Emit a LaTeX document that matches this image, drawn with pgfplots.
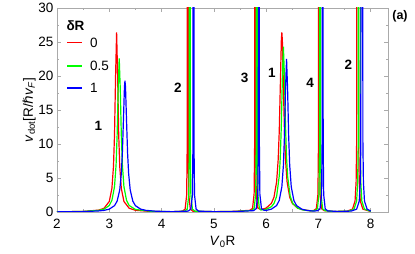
\documentclass[border=0pt]{standalone}
\usepackage{fontspec}
\setmainfont{Liberation Sans}
\newfontfamily\djv{DejaVu Sans}
\usepackage{pgfplots}
\pgfplotsset{compat=1.18}
\definecolor{fr}{RGB}{170,170,170}
\definecolor{cR}{RGB}{255,0,0}
\definecolor{cG}{RGB}{0,255,0}
\definecolor{cB}{RGB}{0,0,255}
\begin{document}
\begin{tikzpicture}
\begin{axis}[
  at={(0pt,0pt)}, anchor=south west,
  scale only axis, width=331pt, height=204pt,
  xmin=2, xmax=8.33, ymin=0, ymax=30,
  xtick={2,3,4,5,6,7,8}, ytick={0,5,10,15,20,25,30},
  minor x tick num=1, minor y tick num=1,
  tick align=inside,
  major tick length=4pt, minor tick length=2.5pt,
  axis line style={fr, line width=0.8pt},
  tick style={fr, line width=0.6pt},
  /pgf/number format/assume math mode=true,
  ticklabel style={font=\fontsize{13.5}{15}\selectfont, black},
  xticklabel style={yshift=-3.5pt},
  xlabel={\textit{V}\textsubscript{0}R},
  ylabel={\textit{v}\textsubscript{dot}[R/{\djv\itshape ℏ}\textit{v}\textsubscript{\textit{F}}]},
  label style={font=\fontsize{13.5}{15}\selectfont},
  xlabel style={yshift=-0.5pt},
  ylabel style={yshift=-4pt},
  clip=true,
]
\addplot[cR, line width=1.2pt] coordinates {
(2.0,0.03) (2.5,0.08) (2.8,0.28) (2.9,0.55) (3.0,1.55) (3.05,3.47) (3.08,6.7) (3.10,11.4) (3.12,19.9) (3.14,26.4) (3.16,19.9) (3.18,11.4) (3.20,6.7) (3.23,3.47) (3.28,1.55) (3.38,0.55) (3.5,0.25) (3.8,0.08) (4.2,0.04)
(4.40,0.12) (4.45,0.42) (4.48,2.5) (4.49,10) (4.50,200) (4.51,10) (4.52,2.5) (4.55,0.42) (4.60,0.12) (5.0,0.05) (5.4,0.1)
(5.69,0.25) (5.74,0.55) (5.77,2.7) (5.78,10.2) (5.79,200) (5.80,10.2) (5.81,2.7) (5.84,0.6) (5.9,0.35)
(6.0,0.58) (6.1,1.27) (6.15,2.18) (6.2,4.45) (6.23,7.72) (6.25,11.8) (6.27,18.3) (6.29,25.2) (6.30,26.4) (6.31,25.2) (6.33,18.3) (6.35,11.8) (6.37,7.72) (6.40,4.45) (6.45,2.18) (6.50,1.27) (6.6,0.58) (6.7,0.33) (6.85,0.18)
(6.91,0.22) (6.96,0.5) (6.99,2.6) (7.00,10.1) (7.01,200) (7.02,10.1) (7.03,2.6) (7.06,0.48) (7.11,0.2) (7.3,0.08)
(7.55,0.13) (7.65,0.42) (7.70,1.6) (7.72,4.4) (7.73,10) (7.75,200) (7.77,10) (7.78,4.4) (7.80,1.6) (7.85,0.42) (8.0,0.07)
};
\addplot[cG, line width=1.2pt] coordinates {
(2.0,0.03) (2.5,0.08) (2.8,0.24) (2.9,0.42) (3.0,0.96) (3.05,1.71) (3.10,3.73) (3.13,6.95) (3.15,11.3) (3.17,18.1) (3.19,22.6) (3.21,18.1) (3.23,11.3) (3.25,6.95) (3.28,3.73) (3.33,1.71) (3.38,0.96) (3.5,0.37) (3.8,0.1) (4.2,0.04)
(4.44,0.12) (4.49,0.42) (4.52,2.5) (4.53,10) (4.54,200) (4.55,10) (4.56,2.5) (4.59,0.42) (4.64,0.12) (5.0,0.05) (5.4,0.08)
(5.72,0.22) (5.77,0.52) (5.80,2.65) (5.81,10.2) (5.82,200) (5.83,10.2) (5.84,2.65) (5.87,0.55) (5.9,0.3)
(6.0,0.39) (6.1,0.78) (6.15,1.25) (6.2,2.3) (6.25,5.25) (6.27,8.0) (6.29,12.7) (6.31,19.8) (6.33,24.3) (6.35,19.8) (6.37,12.7) (6.39,8.0) (6.41,5.25) (6.46,2.3) (6.51,1.25) (6.6,0.57) (6.7,0.31) (6.85,0.16)
(6.93,0.2) (6.98,0.48) (7.01,2.6) (7.02,10.1) (7.03,200) (7.04,10.1) (7.05,2.6) (7.08,0.46) (7.13,0.18) (7.3,0.08)
(7.58,0.13) (7.68,0.42) (7.73,1.6) (7.75,4.4) (7.76,10) (7.78,200) (7.80,10) (7.81,4.4) (7.83,1.6) (7.88,0.42) (8.0,0.1)
};
\addplot[cB, line width=1.2pt] coordinates {
(2.0,0.02) (2.5,0.06) (2.8,0.16) (2.9,0.24) (3.0,0.42) (3.1,0.93) (3.15,1.6) (3.2,3.25) (3.23,5.64) (3.25,8.64) (3.27,13.4) (3.29,18.4) (3.30,19.3) (3.31,18.4) (3.33,13.4) (3.35,8.64) (3.37,5.64) (3.40,3.25) (3.45,1.6) (3.50,0.93) (3.6,0.42) (3.7,0.24) (3.9,0.11) (4.2,0.05)
(4.51,0.13) (4.56,0.43) (4.59,2.5) (4.60,10) (4.61,200) (4.62,10) (4.63,2.5) (4.66,0.42) (4.71,0.12) (5.0,0.05) (5.4,0.06)
(5.76,0.2) (5.81,0.5) (5.84,2.6) (5.85,10.1) (5.86,200) (5.87,10.1) (5.88,2.6) (5.91,0.5) (5.96,0.25)
(6.0,0.23) (6.1,0.42) (6.2,0.95) (6.25,1.7) (6.30,3.7) (6.33,6.9) (6.35,11.25) (6.37,18) (6.39,22.5) (6.41,18) (6.43,11.25) (6.45,6.9) (6.48,3.7) (6.53,1.7) (6.58,0.95) (6.68,0.42) (6.78,0.23) (6.9,0.14)
(6.98,0.18) (7.03,0.45) (7.06,2.55) (7.07,10.1) (7.08,200) (7.09,10.1) (7.10,2.55) (7.13,0.44) (7.18,0.16) (7.4,0.07)
(7.63,0.14) (7.73,0.42) (7.78,1.6) (7.80,4.4) (7.81,10) (7.83,200) (7.85,10) (7.86,4.4) (7.88,1.6) (7.93,0.42) (8.0,0.14)
};
\node[font=\fontsize{13.5}{15}\selectfont\bfseries] at (axis cs:2.79,12.6) {1};
\node[font=\fontsize{13.5}{15}\selectfont\bfseries] at (axis cs:4.31,18.3) {2};
\node[font=\fontsize{13.5}{15}\selectfont\bfseries] at (axis cs:5.59,19.7) {3};
\node[font=\fontsize{13.5}{15}\selectfont\bfseries] at (axis cs:6.11,20.4) {1};
\node[font=\fontsize{13.5}{15}\selectfont\bfseries] at (axis cs:6.84,19.0) {4};
\node[font=\fontsize{13.5}{15}\selectfont\bfseries] at (axis cs:7.57,21.6) {2};
\end{axis}
% legend
\node[font=\fontsize{13.5}{15}\selectfont\bfseries] at (18.5pt,186pt) {δR};
\draw[cR, line width=1.2pt] (10pt,169.3pt) -- (25pt,169.3pt);
\draw[cG, line width=1.2pt] (10pt,146pt) -- (25pt,146pt);
\draw[cB, line width=1.2pt] (10pt,124pt) -- (25pt,124pt);
\node[font=\fontsize{13.5}{15}\selectfont, anchor=west, inner sep=0pt] at (33pt,169.3pt) {0};
\node[font=\fontsize{13.5}{15}\selectfont, anchor=west, inner sep=0pt] at (33pt,146pt) {0.5};
\node[font=\fontsize{13.5}{15}\selectfont, anchor=west, inner sep=0pt] at (33pt,124pt) {1};
\node[font=\fontsize{12.5}{15}\selectfont\bfseries] at (343pt,195.5pt) {(a)};
\pgfresetboundingbox
\path[use as bounding box] (-57pt,-42pt) rectangle (358pt,212pt);
\end{tikzpicture}
\end{document}
